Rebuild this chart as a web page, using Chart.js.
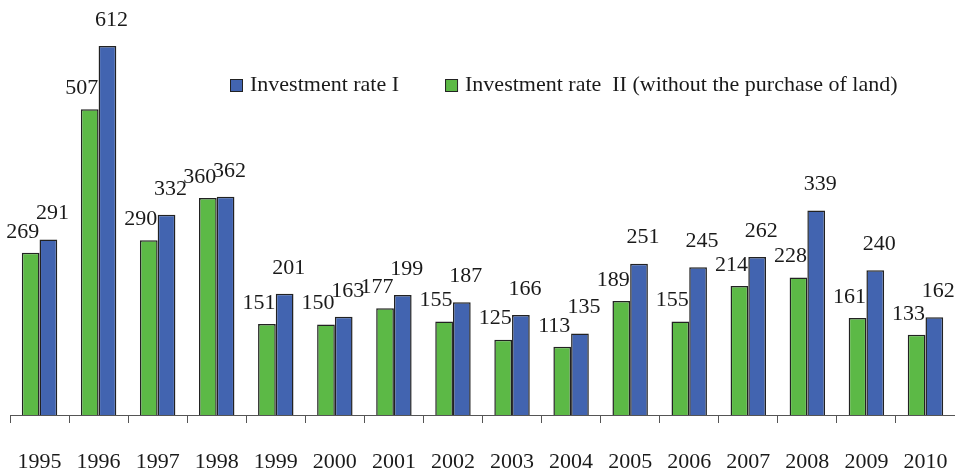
<!DOCTYPE html>
<html>
<head>
<meta charset="utf-8">
<script src="https://cdn.jsdelivr.net/npm/chart.js@4/dist/chart.umd.min.js"></script>
<style>
  body { margin: 0; background: #fff; }
  #wrap { width: 955px; height: 472px; }
</style>
</head>
<body>
<div id="wrap"><canvas id="investment-rate" width="955" height="472"></canvas></div>
<script>
const years = ['1995', '1996', '1997', '1998', '1999', '2000', '2001', '2002', '2003', '2004', '2005', '2006', '2007', '2008', '2009', '2010'];
const rateOne = [291, 612, 332, 362, 201, 163, 199, 187, 166, 135, 251, 245, 262, 339, 240, 162];
const rateTwo = [269, 507, 290, 360, 151, 150, 177, 155, 125, 113, 189, 155, 214, 228, 161, 133];

const GREEN = 'rgb(92, 185, 70)';
const BLUE = 'rgb(66, 100, 176)';
const TEXT = '#1a1a1a';
const SERIF = '"Liberation Serif", "Times New Roman", serif';

// value labels above each bar (green a bit left, blue a bit higher)
const valueLabels = {
    id: 'valueLabels',
    afterDatasetsDraw(chart) {
        const ctx = chart.ctx;
        ctx.save();
        ctx.font = '22px ' + SERIF;
        ctx.fillStyle = TEXT;
        ctx.textAlign = 'center';
        ctx.textBaseline = 'middle';
        chart.data.datasets.forEach((ds, i) => {
            const dx = i === 0 ? -8 : 4;
            const dy = i === 0 ? 21 : 26;
            chart.getDatasetMeta(i).data.forEach((bar, j) => {
                ctx.fillText(String(ds.data[j]), bar.x + dx, bar.y - dy);
            });
        });
        ctx.restore();
    }
};

// legend drawn inside plot, blue first
const innerLegend = {
    id: 'innerLegend',
    afterDraw(chart) {
        const ctx = chart.ctx;
        const items = [chart.data.datasets[1], chart.data.datasets[0]];
        let x = 230;
        const y = 85;
        ctx.save();
        ctx.font = '22px ' + SERIF;
        ctx.textBaseline = 'middle';
        items.forEach(ds => {
            ctx.fillStyle = ds.backgroundColor;
            ctx.fillRect(x, y - 6, 12, 12);
            ctx.strokeStyle = '#222';
            ctx.lineWidth = 1;
            ctx.strokeRect(x + 0.5, y - 5.5, 12, 12);
            ctx.fillStyle = TEXT;
            ctx.fillText(ds.label, x + 20, y);
            x += 20 + ctx.measureText(ds.label).width + 46;
        });
        ctx.restore();
    }
};

new Chart(document.getElementById('investment-rate'), {
    type: 'bar',
    data: {
        labels: years,
        datasets: [
            {
                label: 'Investment rate  II (without the purchase of land)',
                data: rateTwo,
                backgroundColor: GREEN,
                borderColor: '#222',
                borderWidth: 1.5,
                categoryPercentage: 0.6,
                barPercentage: 1.0
            },
            {
                label: 'Investment rate I',
                data: rateOne,
                backgroundColor: BLUE,
                borderColor: '#222',
                borderWidth: 1.5,
                categoryPercentage: 0.6,
                barPercentage: 1.0
            }
        ]
    },
    options: {
        responsive: false,
        animation: false,
        layout: { padding: { left: 10, right: -4, top: 5, bottom: 4 } },
        scales: {
            x: {
                offset: true,
                grid: {
                    offset: true,
                    drawOnChartArea: false,
                    drawTicks: true,
                    tickLength: 8,
                    color: '#555',
                    lineWidth: 1
                },
                border: { display: true, color: '#555', width: 1 },
                ticks: {
                    color: TEXT,
                    font: { family: SERIF, size: 22 },
                    padding: 26,
                    maxRotation: 0
                },
                afterFit(scale) {
                    scale.height = 53;
                    scale.paddingLeft = 0;
                    scale.paddingRight = 0;
                }
            },
            y: {
                display: false,
                min: 0,
                max: 680
            }
        },
        plugins: {
            legend: { display: false },
            tooltip: { enabled: false }
        }
    },
    plugins: [valueLabels, innerLegend]
});
</script>
</body>
</html>
